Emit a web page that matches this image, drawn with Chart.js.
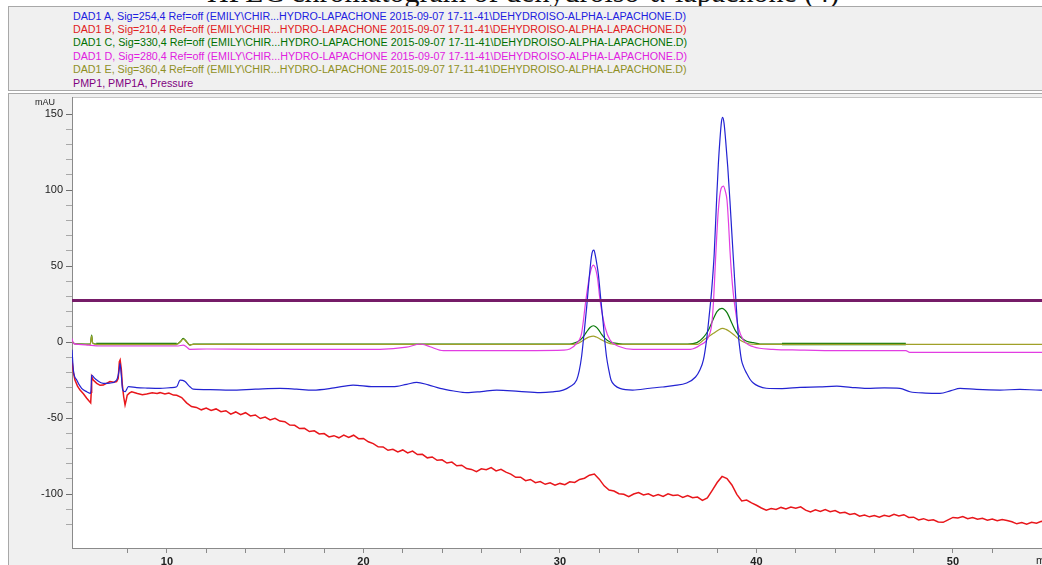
<!DOCTYPE html>
<html>
<head>
<meta charset="utf-8">
<script src="https://cdn.jsdelivr.net/npm/chart.js@4.4.1/dist/chart.umd.min.js"></script>
<style>
  body { margin: 0; width: 1042px; height: 565px; overflow: hidden; background: #fff; position: relative; font-family: "Liberation Sans", Arial, sans-serif; }
  #title { position: absolute; left: 207px; top: -25px; font: 30px "Liberation Serif", "Times New Roman", serif; white-space: nowrap; color: #111; }
  #legend { position: absolute; left: 8px; top: 6px; width: 1040px; height: 85px; background: #f0f0f0; border: 1px solid #a8a8a8; box-sizing: border-box; }
  #legend div { position: absolute; left: 64px; font-size: 10px; line-height: 13px; white-space: nowrap; transform-origin: 0 50%; }
  #panel { position: absolute; left: 8px; top: 93px; width: 1040px; height: 480px; background: #f0f0f0; border-left: 1px solid #a8a8a8; border-top: 1px solid #a8a8a8; }
  #panel canvas { position: absolute; left: 0; top: 0; }
</style>
</head>
<body>
<div id="title">HPLC chromatogram of dehydroiso-α-lapachone (4)</div>
<div id="legend">
  <div style="top:3px;color:#2020e0">DAD1 A, Sig=254,4 Ref=off (EMILY\CHIR...HYDRO-LAPACHONE 2015-09-07 17-11-41\DEHYDROISO-ALPHA-LAPACHONE.D)</div>
  <div style="top:16px;color:#e02020">DAD1 B, Sig=210,4 Ref=off (EMILY\CHIR...HYDRO-LAPACHONE 2015-09-07 17-11-41\DEHYDROISO-ALPHA-LAPACHONE.D)</div>
  <div style="top:29px;color:#007000">DAD1 C, Sig=330,4 Ref=off (EMILY\CHIR...HYDRO-LAPACHONE 2015-09-07 17-11-41\DEHYDROISO-ALPHA-LAPACHONE.D)</div>
  <div style="top:43px;color:#e020e0">DAD1 D, Sig=280,4 Ref=off (EMILY\CHIR...HYDRO-LAPACHONE 2015-09-07 17-11-41\DEHYDROISO-ALPHA-LAPACHONE.D)</div>
  <div style="top:56px;color:#8f8f1f">DAD1 E, Sig=360,4 Ref=off (EMILY\CHIR...HYDRO-LAPACHONE 2015-09-07 17-11-41\DEHYDROISO-ALPHA-LAPACHONE.D)</div>
  <div style="top:70px;color:#800080">PMP1, PMP1A, Pressure</div>
</div>
<div id="panel"><canvas id="myChart" width="1033" height="471"></canvas></div>
<script>
// retention time range (min) and signal range (mAU)
const xMin = 5.17, xMax = 54.53;
const yMin = -135.5, yMax = 161.2;

// DAD1 A, 254 nm
const blueTimes = [5.17, 5.24, 5.41, 5.66, 5.92, 6.12, 6.15, 6.17, 6.3, 6.43,
    6.76, 7.1, 7.44, 7.52, 7.58, 7.61, 7.68, 7.75, 7.87, 8.04,
    8.46, 9.0, 9.65, 10.2, 10.5, 10.67, 10.8, 10.92, 11.17, 11.34,
    12.2, 13.21, 14.5, 15.75, 16.6, 17.43, 18.5, 19.47, 20.49, 21.5,
    22.2, 22.71, 23.3, 23.9, 24.6, 25.26, 26.0, 26.78, 27.9, 28.99,
    29.6, 30.16, 30.5, 30.85, 30.98, 31.1, 31.23, 31.36, 31.48, 31.6,
    31.67, 31.73, 31.8, 31.88, 31.95, 32.08, 32.2, 32.28, 32.37, 32.48,
    32.6, 32.8, 33.05, 33.7, 34.58, 35.2, 35.77, 36.45, 36.9, 37.12,
    37.3, 37.46, 37.6, 37.72, 37.85, 37.97, 38.06, 38.14, 38.22, 38.28,
    38.35, 38.43, 38.54, 38.65, 38.75, 38.85, 38.96, 39.07, 39.16, 39.24,
    39.35, 39.5, 39.67, 39.84, 40.1, 40.5, 41.3, 42.22, 43.2, 44.09,
    44.8, 45.61, 46.5, 47.3, 47.81, 48.6, 49.34, 49.9, 50.36, 51.2,
    52.39, 53.4, 54.43, 54.6];
const blueValues = [-5, -18.4, -25, -30.5, -32.7, -33.8, -28, -21.7, -23.5, -25,
    -27.2, -27, -25, -22, -17.3, -14, -22, -31.6, -32.7, -29.4,
    -30, -30.3, -30.5, -30, -29.4, -25, -25.2, -26, -29.4, -31,
    -31.3, -31.6, -31, -30.5, -31, -31.6, -30.2, -28.3, -29.4, -29.4,
    -27.8, -26.5, -28.2, -30.5, -32.2, -33.3, -32.6, -31.6, -32.4, -33.3,
    -32.8, -31.6, -29.4, -25, -19, -9.7, 6, 23, 41, 56,
    60, 60.5, 57, 51, 45, 28, 12.5, 1, -9.7, -18,
    -25, -28.6, -30.5, -31.6, -30.4, -29.6, -28.7, -27, -23, -18.4,
    -11.8, 1.3, 18, 34, 58, 93, 117, 133, 145, 147.8,
    144, 133, 115, 93, 71, 49.5, 26, 5.7, -5, -12,
    -16.5, -20.6, -24.5, -27, -29, -30.4, -30.6, -29.8, -29.5, -29,
    -29.8, -30.5, -30.2, -30.5, -32.7, -33.6, -33.8, -32, -30.5, -31.2,
    -31.6, -31.2, -31.6, -31.6];

// DAD1 B, 210 nm: start-up part, then the trace sampled every 0.25 min from 11.0 min
const redEarlyTimes = [5.17, 5.24, 5.32, 5.45, 5.58, 5.75, 5.92, 6.05, 6.12, 6.15,
    6.17, 6.25, 6.43, 6.6, 6.76, 6.95, 7.1, 7.3, 7.44, 7.52,
    7.58, 7.62, 7.68, 7.73, 7.8, 7.87, 7.93, 7.98, 8.1, 8.21,
    8.5, 8.75, 8.97, 9.25, 9.5, 9.65, 9.9, 10.1, 10.33, 10.5, 10.75];
const redEarlyValues = [-12, -20, -25, -29, -31.6, -34, -37, -39, -40, -33,
    -22.8, -25, -27.2, -28.5, -28.3, -27, -26, -26.5, -26, -24,
    -13, -11.8, -18, -28, -36, -41.4, -38, -34.9, -33.5, -32.7,
    -33.8, -34.6, -34.2, -33.4, -33.8, -33.3, -34.2, -33.6, -34.9, -35.0, -36.5];
const redStart = 11.0, redStep = 0.25;
const redValues = [
    -40.0, -42.4, -43.0, -44.6,   // 11
    -43.4, -45.0, -44.0, -45.8,   // 12
    -45.2, -47.4, -46.0, -47.8,   // 13
    -46.5, -48.6, -48.0, -50.3,   // 14
    -49.4, -51.2, -50.2, -52.0,   // 15
    -52.4, -54.6, -54.8, -56.9,   // 16
    -56.8, -58.9, -58.4, -60.5,   // 17
    -60.2, -62.4, -61.6, -63.0,   // 18
    -61.2, -62.8, -61.3, -63.6,   // 19
    -63.4, -65.6, -66.8, -68.9,   // 20
    -69.0, -71.2, -70.6, -72.3,   // 21
    -71.0, -73.0, -71.7, -74.0,   // 22
    -73.9, -76.2, -75.6, -77.8,   // 23
    -77.5, -79.6, -79.0, -81.4,   // 24
    -81.0, -83.2, -83.8, -85.3,   // 25
    -83.4, -84.0, -82.6, -84.8,   // 26
    -83.7, -85.6, -86.9, -89.0,   // 27
    -88.9, -91.2, -90.4, -92.5,   // 28
    -91.8, -93.6, -92.6, -94.2,   // 29
    -93.0, -93.8, -92.0, -92.4,   // 30
    -90.4, -89.6, -87.6, -86.8,   // 31
    -90.2, -94.6, -97.4, -98.0,   // 32
    -99.8, -100.2, -101.8, -100.0, // 33
    -99.0, -100.6, -99.8, -101.4, // 34
    -100.4, -101.6, -99.8, -101.0, // 35
    -100.6, -102.2, -101.0, -102.4, // 36
    -102.0, -104.2, -102.6, -97.6, // 37
    -92.4, -88.4, -89.8, -94.0,   // 38
    -100.2, -104.6, -104.0, -105.8, // 39
    -107.4, -109.2, -110.6, -109.6, // 40
    -110.2, -108.8, -109.8, -108.6, // 41
    -109.4, -108.4, -110.6, -111.8, // 42
    -110.4, -111.4, -110.2, -111.6, // 43
    -110.8, -112.4, -112.0, -113.4, // 44
    -112.8, -114.6, -113.8, -115.0, // 45
    -114.2, -115.2, -114.0, -114.8, // 46
    -113.4, -114.4, -113.6, -115.4, // 47
    -115.2, -117.0, -116.2, -117.4, // 48
    -117.0, -118.4, -118.6, -117.0, // 49
    -115.4, -115.8, -114.8, -116.2, // 50
    -115.4, -116.6, -116.0, -117.2, // 51
    -116.4, -117.6, -116.8, -117.4, // 52
    -118.2, -119.6, -118.8, -119.8, // 53
    -118.6, -119.2, -118.0, -118.6  // 54
];

// DAD1 C, 330 nm
const greenTimes = [5.17, 5.3, 6.1, 6.17, 6.22, 6.4, 10.5, 10.7, 10.83, 10.95,
    11.17, 11.35, 30.5, 30.68, 31.0, 31.19, 31.35, 31.53, 31.7, 31.82,
    31.95, 32.12, 32.29, 32.55, 32.89, 33.2, 36.5, 36.97, 37.3, 37.56,
    37.8, 37.99, 38.24, 38.5, 38.75, 38.95, 39.17, 39.5, 39.84, 40.18,
    41.3, 47.6];
const greenValues = [0.5, -1, -1.3, 4.6, -0.5, -1.3, -1.3, 0.5, 2.4, 1,
    -2, -1.3, -1.3, -0.9, 1, 3.5, 6.5, 9.6, 10.7, 10,
    8.4, 5, 2.4, 0, -0.9, -1.3, -1.3, -0.4, 3, 7.9,
    15, 20, 22.1, 19.3, 12.3, 7, 3.5, 0.5, -0.4, -1.3,
    -1.3, -1.3];

// DAD1 D, 280 nm
const magentaTimes = [5.17, 5.24, 5.5, 6.0, 6.17, 6.5, 8.0, 9.5, 10.58, 10.83,
    11.0, 11.17, 12.02, 14.74, 17.0, 20.84, 22.2, 22.88, 23.1, 23.39,
    24.07, 26.78, 30.17, 30.5, 30.85, 31.1, 31.32, 31.53, 31.7, 31.9,
    32.04, 32.29, 32.55, 33.05, 33.73, 36.63, 37.14, 37.56, 37.73, 37.82,
    37.9, 37.98, 38.06, 38.2, 38.32, 38.42, 38.5, 38.58, 38.65, 38.73,
    38.82, 38.95, 39.07, 39.33, 39.84, 40.84, 42.22, 44.2, 47.6, 47.8,
    54.6];
const magentaValues = [2.4, -0.9, -1.5, -2, -2.2, -2.6, -2.6, -2.6, -2.6, -2,
    -3.2, -4.8, -4.6, -4.8, -4.8, -4.8, -3.4, -1.3, -1.8, -3.1,
    -5.7, -5.7, -5.3, -4.6, -0.9, 5.7, 27.6, 45, 50.6, 43,
    27.6, 10, 1.3, -3.1, -4.8, -4.8, -2, 3.5, 12.3, 28,
    49.5, 70, 86.8, 101, 102.6, 99, 93.4, 78, 60.5, 45,
    32, 19, 10, 1.3, -3.1, -4.8, -5.3, -5.7, -5.7, -6.8,
    -6.8];

// DAD1 E, 360 nm
const oliveTimes = [5.17, 5.3, 6.1, 6.17, 6.22, 6.4, 10.5, 10.7, 10.83, 10.95,
    11.17, 11.35, 30.6, 30.92, 31.15, 31.34, 31.5, 31.7, 31.85, 32.04,
    32.3, 32.55, 32.9, 37.0, 37.3, 37.55, 37.81, 38.05, 38.28, 38.45,
    38.65, 38.9, 39.16, 39.4, 39.67, 40.0, 54.6];
const oliveValues = [0.5, -1.2, -1.5, 4.0, -0.7, -1.5, -1.5, 0.3, 2.0, 0.8,
    -2.0, -1.5, -1.5, -0.9, 0.8, 2.4, 3.4, 3.9, 3.3, 2.0,
    0.2, -1.0, -1.5, -1.5, 1.3, 3.5, 5.7, 7.8, 9.0, 8.3,
    6.8, 4.2, 1.3, -0.3, -1.3, -1.5, -1.5];

// PMP1 pressure trace
const pressureTimes = [5.17, 54.6];
const pressureValues = [27.4, 27.4];

// labelled ticks
const yLabels = [-100, -50, 0, 50, 100, 150];
const xLabels = [10, 20, 30, 40, 50];

function toPoints(times, values) {
    return times.map((t, i) => ({ x: t, y: values[i] }));
}

var redPoints = toPoints(redEarlyTimes, redEarlyValues).concat(
    redValues.map((v, i) => ({ x: redStart + i * redStep, y: v })));

function onGrid(v, step) {
    return Math.abs(v / step - Math.round(v / step)) < 1e-6;
}

const panelBg = {
    id: "panelBg",
    beforeDraw(chart) {
        const c = chart.ctx, a = chart.chartArea;
        c.save();
        c.fillStyle = "#f0f0f0";
        c.fillRect(0, 0, chart.width, chart.height);
        c.fillStyle = "#ffffff";
        c.fillRect(a.left, a.top, a.right - a.left, a.bottom - a.top);
        c.strokeStyle = "#c4c4c4";
        c.lineWidth = 1;
        c.strokeRect(a.left + 0.5, a.top + 0.5, a.right - a.left, a.bottom - a.top);
        c.restore();
    },
    afterDraw(chart) {
        const c = chart.ctx, a = chart.chartArea;
        c.save();
        c.fillStyle = "#222";
        c.font = '9px "Liberation Sans", Arial, sans-serif';
        c.textAlign = "right";
        c.textBaseline = "middle";
        c.fillText("mAU", a.left - 17, a.top + 6);
        c.font = '11px "Liberation Sans", Arial, sans-serif';
        c.textAlign = "left";
        c.fillText("min", a.right - 6, a.bottom + 13);
        c.restore();
    }
};

var ctx = document.getElementById("myChart").getContext("2d");
var myChart = new Chart(ctx, {
    type: "line",
    data: {
        datasets: [{
            label: "PMP1, PMP1A, Pressure",
            data: toPoints(pressureTimes, pressureValues),
            borderColor: "#761c68",
            borderWidth: 3,
            order: 0
        }, {
            label: "DAD1 A, Sig=254,4",
            data: toPoints(blueTimes, blueValues),
            borderColor: "#2323d2",
            borderWidth: 1.2,
            cubicInterpolationMode: "monotone",
            order: 1
        }, {
            label: "DAD1 D, Sig=280,4",
            data: toPoints(magentaTimes, magentaValues),
            borderColor: "#e23de2",
            borderWidth: 1.2,
            cubicInterpolationMode: "monotone",
            order: 2
        }, {
            label: "DAD1 B, Sig=210,4",
            data: redPoints,
            borderColor: "#e8161b",
            borderWidth: 1.5,
            order: 3
        }, {
            label: "DAD1 E, Sig=360,4",
            data: toPoints(oliveTimes, oliveValues),
            borderColor: "#a0a028",
            borderWidth: 1.2,
            cubicInterpolationMode: "monotone",
            order: 4
        }, {
            label: "DAD1 C, Sig=330,4",
            data: toPoints(greenTimes, greenValues),
            borderColor: "#0b7a0b",
            borderWidth: 1.2,
            cubicInterpolationMode: "monotone",
            segment: {
                // the 330 nm baseline is noisier in these stretches
                borderWidth: s => {
                    const x = s.p0.parsed.x;
                    return (x >= 6.3 && x < 10.5) || (x >= 41.3 && x < 47.6) ? 2.6 : 1.2;
                }
            },
            order: 5
        }]
    },
    options: {
        responsive: false,
        animation: false,
        devicePixelRatio: 1,
        layout: { padding: { top: 3, right: 0, bottom: 0, left: 0 } },
        elements: { point: { radius: 0 } },
        plugins: { legend: { display: false }, tooltip: { enabled: false } },
        scales: {
            x: {
                type: "linear",
                min: xMin,
                max: xMax,
                afterBuildTicks: s => { s.ticks = s.ticks.filter(t => onGrid(t.value, 2)); },
                afterFit: s => { s.height = 17; s.paddingLeft = 0; s.paddingRight = 0; },
                ticks: {
                    stepSize: 2,
                    autoSkip: false,
                    maxRotation: 0,
                    padding: 2,
                    color: "#222",
                    font: { family: '"Liberation Sans", Arial, sans-serif', size: 11, weight: "bold" },
                    callback: v => xLabels.includes(Math.round(v)) && onGrid(v, 10) ? String(Math.round(v)) : ""
                },
                grid: { drawOnChartArea: false, tickLength: 5, color: "#8a8a8a" },
                border: { color: "#8a8a8a" }
            },
            y: {
                min: yMin,
                max: yMax,
                afterBuildTicks: s => { s.ticks = s.ticks.filter(t => onGrid(t.value, 10)); },
                afterFit: s => { s.width = 63; s.paddingTop = 0; s.paddingBottom = 0; },
                ticks: {
                    stepSize: 10,
                    autoSkip: false,
                    padding: 3,
                    color: "#222",
                    font: { family: '"Liberation Sans", Arial, sans-serif', size: 11 },
                    callback: v => yLabels.includes(Math.round(v)) && onGrid(v, 50) ? String(Math.round(v)) : ""
                },
                grid: {
                    drawOnChartArea: false,
                    tickLength: 6,
                    color: "#8a8a8a",
                    tickColor: c => onGrid(c.tick.value, 50) ? "#707070" : "#a8a8a8"
                },
                border: { color: "#8a8a8a" }
            }
        }
    },
    plugins: [panelBg]
});

// fit the legend lines to the panel text width
var lines = document.querySelectorAll("#legend div");
var k = 613 / lines[0].getBoundingClientRect().width;
lines.forEach(el => { el.style.transform = "scaleX(" + k + ")"; });
</script>
</body>
</html>
